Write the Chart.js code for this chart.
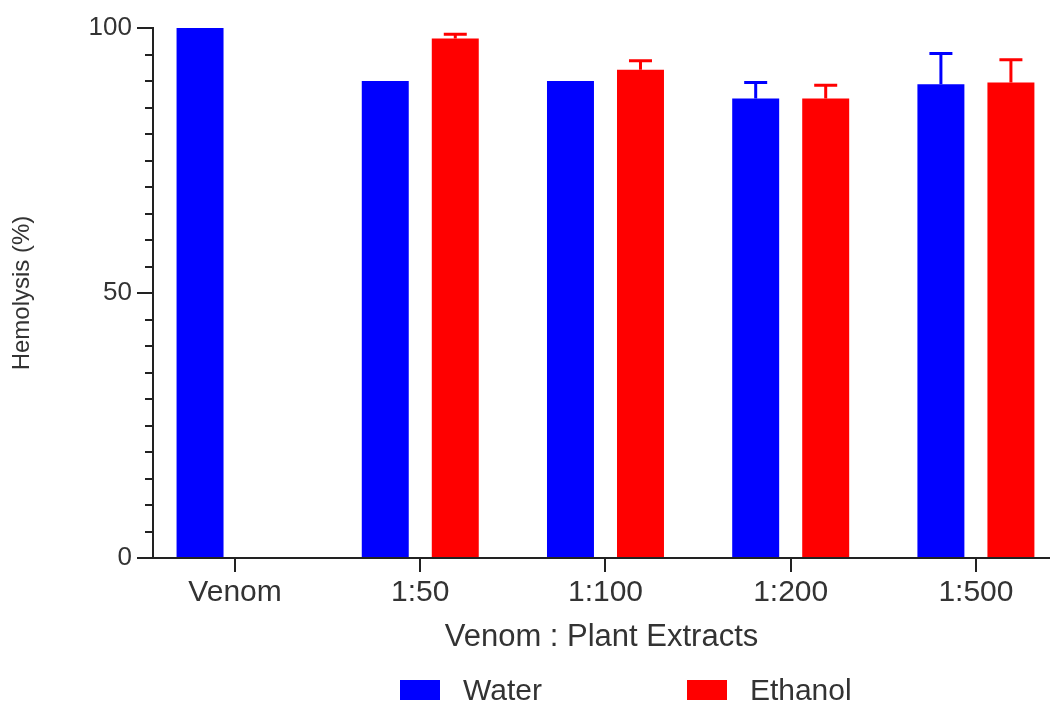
<!DOCTYPE html>
<html>
<head>
<meta charset="utf-8">
<script src="https://cdn.jsdelivr.net/npm/chart.js@4"></script>
<style>
  body { margin: 0; background: #fff; }
  #wrap { position: relative; width: 1050px; height: 702px; }
  #legend { position: absolute; left: 400px; top: 673px; display: flex; align-items: center;
            font-family: "Liberation Sans", Arial, sans-serif; font-size: 30px; color: #333; }
  .item { display: flex; align-items: center; }
  .box { width: 40px; height: 20px; margin-right: 23px; }
  .item + .item { margin-left: 145px; }
</style>
</head>
<body>
<div id="wrap">
  <canvas id="chart" width="1050" height="702"></canvas>
  <div id="legend"></div>
</div>
<script>
// DATOS
const categories = ['Venom', '1:50', '1:100', '1:200', '1:500'];
const seriesNames = ['Water', 'Ethanol'];
const seriesColors = ['#0000ff', '#ff0000'];
const waterValues = [100, 90, 90, 86.7, 89.4];
const waterErrors = [0, 0, 0, 3.0, 5.8];
const ethanolValues = [null, 98.0, 92.1, 86.7, 89.7];
const ethanolErrors = [null, 0.8, 1.7, 2.5, 4.3];
const yTicks = [0, 50, 100];

const FONT = "'Liberation Sans', Arial, sans-serif";

// barras de error (solo hacia arriba)
const errorBars = {
    id: 'errorBars',
    afterDatasetsDraw(chart) {
        const ctx = chart.ctx;
        const y = chart.scales.y;
        chart.data.datasets.forEach((ds, di) => {
            const meta = chart.getDatasetMeta(di);
            ds.errors.forEach((e, i) => {
                const v = ds.data[i].y;
                if (v === null || !e) return;
                const bar = meta.data[i];
                const top = y.getPixelForValue(v + e);
                ctx.save();
                ctx.strokeStyle = ds.backgroundColor;
                ctx.lineWidth = 3;
                ctx.beginPath();
                ctx.moveTo(bar.x, bar.y);
                ctx.lineTo(bar.x, top);
                ctx.moveTo(bar.x - 11.5, top);
                ctx.lineTo(bar.x + 11.5, top);
                ctx.stroke();
                ctx.restore();
            });
        });
    }
};

const toPoints = arr => arr.map((v, i) => ({ x: i, y: v }));

new Chart(document.getElementById('chart'), {
    type: 'bar',
    data: {
        datasets: [
            { label: seriesNames[0], data: toPoints(waterValues), errors: waterErrors, backgroundColor: seriesColors[0] },
            { label: seriesNames[1], data: toPoints(ethanolValues), errors: ethanolErrors, backgroundColor: seriesColors[1] }
        ]
    },
    options: {
        responsive: false,
        animation: false,
        categoryPercentage: 0.756,
        barPercentage: 0.671,
        layout: { padding: { top: 28, left: 0, right: 0, bottom: 44 } },
        plugins: { legend: { display: false }, tooltip: { enabled: false } },
        scales: {
            x: {
                type: 'linear',
                min: -0.443,
                max: 4.40,
                offset: false,
                afterBuildTicks: s => { s.ticks = categories.map((c, i) => ({ value: i })); },
                afterFit: s => { s.height = 100; },
                grid: { drawOnChartArea: false, offset: false, color: '#222', lineWidth: 2, tickLength: 14 },
                border: { display: true, color: '#222', width: 2 },
                ticks: {
                    autoSkip: false, maxRotation: 0, padding: 3,
                    color: '#333', font: { family: FONT, size: 30 },
                    callback: v => categories[v]
                },
                title: {
                    display: true, text: 'Venom : Plant Extracts', color: '#333',
                    font: { family: FONT, size: 31 }, padding: { top: 0, bottom: 2 }
                }
            },
            y: {
                min: 0,
                max: 100,
                afterFit: s => { s.width = 153; },
                grid: {
                    drawOnChartArea: false, color: '#222', lineWidth: 2, tickLength: 16,
                    tickBorderDash: c => (c.tick && !yTicks.includes(c.tick.value)) ? [0, 8, 20] : []
                },
                border: { display: true, color: '#222', width: 2 },
                ticks: {
                    stepSize: 5, autoSkip: false, padding: 5,
                    color: '#333', font: { family: FONT, size: 26 },
                    callback: v => yTicks.includes(v) ? v : ''
                },
                title: {
                    display: true, text: 'Hemolysis (%)', color: '#333',
                    font: { family: FONT, size: 24 }, padding: { top: 8, bottom: 0 }
                }
            }
        }
    },
    plugins: [errorBars]
});

// LEYENDA
const legend = document.getElementById('legend');
seriesNames.forEach((name, i) => {
    const item = document.createElement('div');
    item.className = 'item';
    const box = document.createElement('span');
    box.className = 'box';
    box.style.background = seriesColors[i];
    const txt = document.createElement('span');
    txt.textContent = name;
    item.appendChild(box);
    item.appendChild(txt);
    legend.appendChild(item);
});
</script>
</body>
</html>
